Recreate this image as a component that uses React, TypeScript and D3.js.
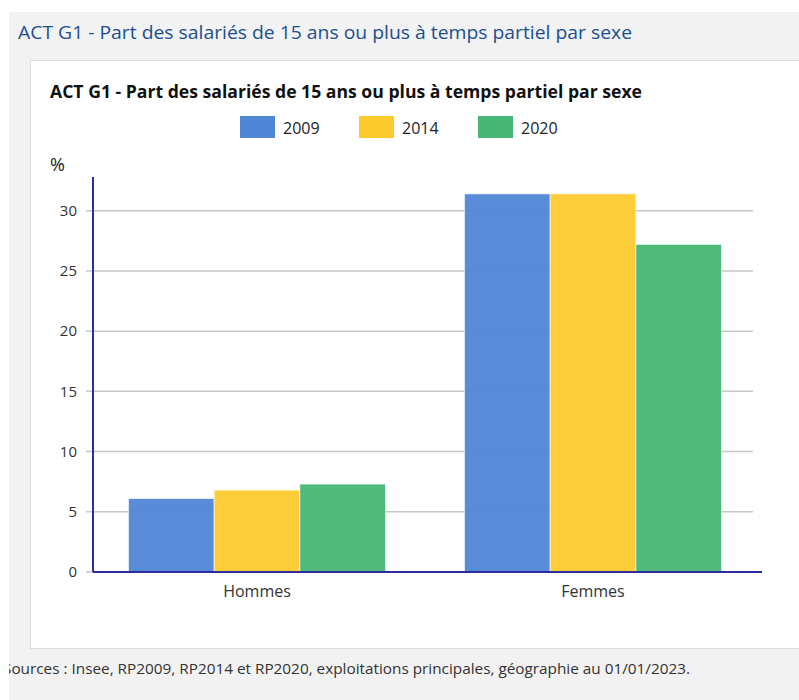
import { scaleBand, scaleLinear } from 'd3'

const categories = ['Hommes', 'Femmes']
const years = ['2009', '2014', '2020']
const values2009 = [6.1, 31.4]
const values2014 = [6.8, 31.4]
const values2020 = [7.3, 27.2]
const yTickValues = [0, 5, 10, 15, 20, 25, 30]

const seriesValues = [values2009, values2014, values2020]
const colors = ['#4f86d6', '#fecb2f', '#47b676']

const W = 799
const H = 700
const font = "'Open Sans', 'Noto Sans', sans-serif"

const plot = { left: 93, right: 761, top: 177, bottom: 572 }

const App = () => {
  const y = scaleLinear().domain([0, 32.8]).range([plot.bottom, plot.top])
  const x0 = scaleBand<string>()
    .domain(categories)
    .range([89, 761])
    .paddingInner(0.235)
    .paddingOuter(0.1175)
  const x1 = scaleBand<string>().domain(years).range([0, x0.bandwidth()])

  return (
    <div style={{ position: 'absolute', left: 0, top: 0 }}>
      <svg width={W} height={H} viewBox={`0 0 ${W} ${H}`} style={{ display: 'block' }}>
        <defs>
          <clipPath id="panel-clip">
            <rect x={9} y={12} width={W - 9} height={H - 12} />
          </clipPath>
        </defs>
        <rect x={0} y={0} width={W} height={H} fill="#ffffff" />
        <rect x={9} y={12} width={W - 9} height={H - 12} fill="#f2f2f2" />
        <text
          x={18}
          y={39}
          fontFamily={font}
          fontSize={19}
          fill="#1b4f8e"
          textLength={614}
          lengthAdjust="spacingAndGlyphs"
        >
          ACT G1 - Part des salariés de 15 ans ou plus à temps partiel par sexe
        </text>

        <rect x={30.5} y={60.5} width={W} height={588} fill="#ffffff" stroke="#dcdcdc" />

        <text
          x={50}
          y={98}
          fontFamily={font}
          fontSize={17}
          fontWeight="bold"
          fill="#111"
          textLength={592}
          lengthAdjust="spacingAndGlyphs"
        >
          ACT G1 - Part des salariés de 15 ans ou plus à temps partiel par sexe
        </text>

        {years.map((yr, i) => (
          <g key={yr} transform={`translate(${240 + i * 119}, 116)`}>
            <rect width={35} height={22} fill={colors[i]} />
            <text x={43} y={17.5} fontFamily={font} fontSize={16} fill="#222">
              {yr}
            </text>
          </g>
        ))}

        <text x={50} y={171} fontFamily={font} fontSize={18} fill="#222">
          %
        </text>

        {yTickValues.map((v) => (
          <g key={v} transform={`translate(0, ${y(v)})`}>
            {v > 0 && <line x1={86} x2={753} stroke="#c8c8c8" strokeWidth={1.5} />}
            {v === 0 && <line x1={86} x2={93} stroke="#c8c8c8" strokeWidth={1.5} />}
            <text
              x={77}
              dy="0.35em"
              textAnchor="end"
              fontFamily={font}
              fontSize={15}
              fill="#333"
            >
              {v}
            </text>
          </g>
        ))}

        {categories.map((cat, ci) => (
          <g key={cat} transform={`translate(${x0(cat)}, 0)`}>
            {years.map((yr, si) => (
              <rect
                key={yr}
                x={x1(yr)}
                y={y(seriesValues[si][ci])}
                width={x1.bandwidth()}
                height={y(0) - y(seriesValues[si][ci])}
                fill={colors[si]}
                fillOpacity={0.95}
                stroke="#ffffff"
                strokeOpacity={0.6}
                strokeWidth={1}
              />
            ))}
            <text
              x={x0.bandwidth() / 2}
              y={597}
              textAnchor="middle"
              fontFamily={font}
              fontSize={16}
              fill="#333"
            >
              {cat}
            </text>
          </g>
        ))}

        <line x1={plot.left} x2={plot.left} y1={plot.top} y2={plot.bottom} stroke="#2d2d9e" strokeWidth={2} />
        <line x1={plot.left} x2={762} y1={plot.bottom} y2={plot.bottom} stroke="#2d2d9e" strokeWidth={2} />

        <g clipPath="url(#panel-clip)">
          <text
            x={3}
            y={674}
            fontFamily={font}
            fontSize={15}
            fill="#333"
            textLength={687}
            lengthAdjust="spacingAndGlyphs"
          >
            Sources : Insee, RP2009, RP2014 et RP2020, exploitations principales, géographie au 01/01/2023.
          </text>
        </g>
      </svg>
    </div>
  )
}

export default App
